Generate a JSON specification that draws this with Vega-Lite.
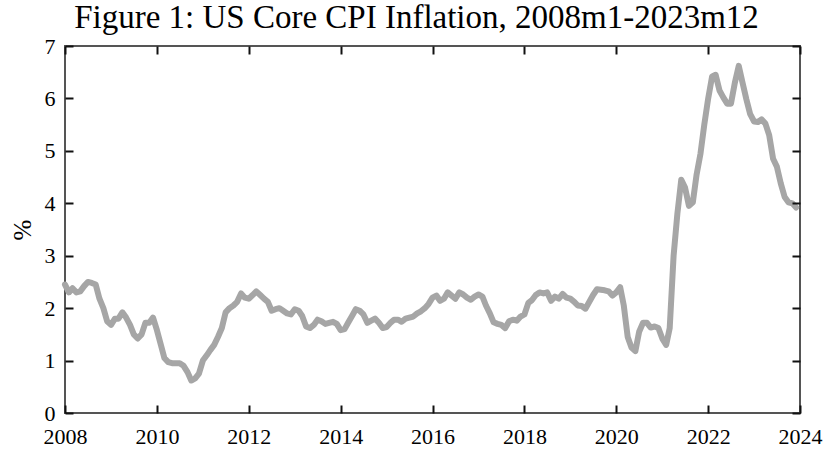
{
  "$schema": "https://vega.github.io/schema/vega-lite/v6.json",
  "width": 735,
  "height": 367,
  "autosize": {"type": "none"},
  "padding": {"left": 65, "top": 46, "right": 27, "bottom": 36},
  "background": "white",
  "config": {"view": {"stroke": "#555555", "strokeWidth": 2}, "font": "Liberation Serif"},
  "title": {
    "text": "Figure 1: US Core CPI Inflation, 2008m1-2023m12",
    "font": "Liberation Serif",
    "fontSize": 33,
    "fontWeight": "normal",
    "color": "black",
    "anchor": "middle",
    "frame": "group",
    "dx": -16,
    "offset": 0
  },
  "datasets": {
    "cpi": [
      {"date":"2008-01","v":2.45},{"date":"2008-02","v":2.30},{"date":"2008-03","v":2.38},{"date":"2008-04","v":2.30},{"date":"2008-05","v":2.32},{"date":"2008-06","v":2.42},{"date":"2008-07","v":2.50},{"date":"2008-08","v":2.48},{"date":"2008-09","v":2.45},{"date":"2008-10","v":2.18},{"date":"2008-11","v":2.00},{"date":"2008-12","v":1.75},
      {"date":"2009-01","v":1.68},{"date":"2009-02","v":1.80},{"date":"2009-03","v":1.80},{"date":"2009-04","v":1.92},{"date":"2009-05","v":1.82},{"date":"2009-06","v":1.68},{"date":"2009-07","v":1.50},{"date":"2009-08","v":1.42},{"date":"2009-09","v":1.50},{"date":"2009-10","v":1.72},{"date":"2009-11","v":1.72},{"date":"2009-12","v":1.82},
      {"date":"2010-01","v":1.58},{"date":"2010-02","v":1.30},{"date":"2010-03","v":1.05},{"date":"2010-04","v":0.97},{"date":"2010-05","v":0.95},{"date":"2010-06","v":0.95},{"date":"2010-07","v":0.95},{"date":"2010-08","v":0.90},{"date":"2010-09","v":0.78},{"date":"2010-10","v":0.62},{"date":"2010-11","v":0.66},{"date":"2010-12","v":0.75},
      {"date":"2011-01","v":1.00},{"date":"2011-02","v":1.10},{"date":"2011-03","v":1.20},{"date":"2011-04","v":1.30},{"date":"2011-05","v":1.45},{"date":"2011-06","v":1.62},{"date":"2011-07","v":1.92},{"date":"2011-08","v":2.00},{"date":"2011-09","v":2.05},{"date":"2011-10","v":2.12},{"date":"2011-11","v":2.28},{"date":"2011-12","v":2.20},
      {"date":"2012-01","v":2.18},{"date":"2012-02","v":2.25},{"date":"2012-03","v":2.32},{"date":"2012-04","v":2.25},{"date":"2012-05","v":2.18},{"date":"2012-06","v":2.12},{"date":"2012-07","v":1.95},{"date":"2012-08","v":1.98},{"date":"2012-09","v":2.00},{"date":"2012-10","v":1.95},{"date":"2012-11","v":1.90},{"date":"2012-12","v":1.88},
      {"date":"2013-01","v":1.98},{"date":"2013-02","v":1.95},{"date":"2013-03","v":1.85},{"date":"2013-04","v":1.65},{"date":"2013-05","v":1.62},{"date":"2013-06","v":1.68},{"date":"2013-07","v":1.78},{"date":"2013-08","v":1.75},{"date":"2013-09","v":1.70},{"date":"2013-10","v":1.72},{"date":"2013-11","v":1.74},{"date":"2013-12","v":1.70},
      {"date":"2014-01","v":1.58},{"date":"2014-02","v":1.60},{"date":"2014-03","v":1.72},{"date":"2014-04","v":1.85},{"date":"2014-05","v":1.98},{"date":"2014-06","v":1.95},{"date":"2014-07","v":1.88},{"date":"2014-08","v":1.72},{"date":"2014-09","v":1.76},{"date":"2014-10","v":1.80},{"date":"2014-11","v":1.72},{"date":"2014-12","v":1.62},
      {"date":"2015-01","v":1.64},{"date":"2015-02","v":1.72},{"date":"2015-03","v":1.78},{"date":"2015-04","v":1.78},{"date":"2015-05","v":1.74},{"date":"2015-06","v":1.80},{"date":"2015-07","v":1.82},{"date":"2015-08","v":1.84},{"date":"2015-09","v":1.90},{"date":"2015-10","v":1.94},{"date":"2015-11","v":2.00},{"date":"2015-12","v":2.08},
      {"date":"2016-01","v":2.20},{"date":"2016-02","v":2.24},{"date":"2016-03","v":2.14},{"date":"2016-04","v":2.18},{"date":"2016-05","v":2.30},{"date":"2016-06","v":2.24},{"date":"2016-07","v":2.18},{"date":"2016-08","v":2.30},{"date":"2016-09","v":2.26},{"date":"2016-10","v":2.20},{"date":"2016-11","v":2.16},{"date":"2016-12","v":2.22},
      {"date":"2017-01","v":2.26},{"date":"2017-02","v":2.22},{"date":"2017-03","v":2.05},{"date":"2017-04","v":1.90},{"date":"2017-05","v":1.73},{"date":"2017-06","v":1.70},{"date":"2017-07","v":1.68},{"date":"2017-08","v":1.62},{"date":"2017-09","v":1.75},{"date":"2017-10","v":1.78},{"date":"2017-11","v":1.76},{"date":"2017-12","v":1.84},
      {"date":"2018-01","v":1.88},{"date":"2018-02","v":2.10},{"date":"2018-03","v":2.15},{"date":"2018-04","v":2.25},{"date":"2018-05","v":2.30},{"date":"2018-06","v":2.28},{"date":"2018-07","v":2.30},{"date":"2018-08","v":2.14},{"date":"2018-09","v":2.22},{"date":"2018-10","v":2.18},{"date":"2018-11","v":2.27},{"date":"2018-12","v":2.20},
      {"date":"2019-01","v":2.18},{"date":"2019-02","v":2.12},{"date":"2019-03","v":2.05},{"date":"2019-04","v":2.04},{"date":"2019-05","v":1.99},{"date":"2019-06","v":2.12},{"date":"2019-07","v":2.25},{"date":"2019-08","v":2.36},{"date":"2019-09","v":2.35},{"date":"2019-10","v":2.34},{"date":"2019-11","v":2.32},{"date":"2019-12","v":2.24},
      {"date":"2020-01","v":2.30},{"date":"2020-02","v":2.40},{"date":"2020-03","v":2.05},{"date":"2020-04","v":1.45},{"date":"2020-05","v":1.25},{"date":"2020-06","v":1.18},{"date":"2020-07","v":1.55},{"date":"2020-08","v":1.72},{"date":"2020-09","v":1.72},{"date":"2020-10","v":1.63},{"date":"2020-11","v":1.65},{"date":"2020-12","v":1.62},
      {"date":"2021-01","v":1.42},{"date":"2021-02","v":1.30},{"date":"2021-03","v":1.62},{"date":"2021-04","v":3.00},{"date":"2021-05","v":3.80},{"date":"2021-06","v":4.45},{"date":"2021-07","v":4.30},{"date":"2021-08","v":3.95},{"date":"2021-09","v":4.02},{"date":"2021-10","v":4.55},{"date":"2021-11","v":4.95},{"date":"2021-12","v":5.50},
      {"date":"2022-01","v":6.00},{"date":"2022-02","v":6.42},{"date":"2022-03","v":6.45},{"date":"2022-04","v":6.15},{"date":"2022-05","v":6.02},{"date":"2022-06","v":5.90},{"date":"2022-07","v":5.90},{"date":"2022-08","v":6.30},{"date":"2022-09","v":6.62},{"date":"2022-10","v":6.30},{"date":"2022-11","v":5.98},{"date":"2022-12","v":5.70},
      {"date":"2023-01","v":5.56},{"date":"2023-02","v":5.55},{"date":"2023-03","v":5.60},{"date":"2023-04","v":5.52},{"date":"2023-05","v":5.30},{"date":"2023-06","v":4.85},{"date":"2023-07","v":4.70},{"date":"2023-08","v":4.38},{"date":"2023-09","v":4.12},{"date":"2023-10","v":4.02},{"date":"2023-11","v":4.00},{"date":"2023-12","v":3.92}
    ]
  },
  "data": {"name": "cpi"},
  "layer": [
    {
      "mark": {"type": "line", "color": "#a6a6a6", "strokeWidth": 6, "strokeJoin": "round", "strokeCap": "round"},
      "encoding": {
        "x": {
          "field": "date", "type": "temporal",
          "scale": {"type": "utc", "domain": [{"year": 2008, "month": 1, "date": 1, "utc": true}, {"year": 2024, "month": 1, "date": 1, "utc": true}]},
          "axis": {
            "orient": "bottom", "title": null, "grid": false, "format": "%Y",
            "values": [{"year": 2008, "utc": true}, {"year": 2010, "utc": true}, {"year": 2012, "utc": true}, {"year": 2014, "utc": true}, {"year": 2016, "utc": true}, {"year": 2018, "utc": true}, {"year": 2020, "utc": true}, {"year": 2022, "utc": true}, {"year": 2024, "utc": true}],
            "domain": false, "offset": -8, "ticks": true,
            "tickSize": 8, "tickColor": "#111111", "tickWidth": 2, "tickOpacity": 1,
            "labelFont": "Liberation Serif", "labelFontSize": 22, "labelColor": "black",
            "labelPadding": 13, "labelFlush": false, "labelOverlap": false, "zindex": 2
          }
        },
        "y": {
          "field": "v", "type": "quantitative",
          "scale": {"domain": [0, 7], "nice": false, "zero": true},
          "axis": {
            "orient": "left", "title": "%", "grid": false,
            "values": [0, 1, 2, 3, 4, 5, 6, 7],
            "domain": false, "offset": -8, "ticks": true,
            "tickSize": 8, "tickColor": "#111111", "tickWidth": 2, "tickOpacity": 1,
            "labelFont": "Liberation Serif", "labelFontSize": 22, "labelColor": "black",
            "labelPadding": 10, "labelFlush": false, "labelOverlap": false,
            "titleFont": "Liberation Serif", "titleFontSize": 25, "titleFontWeight": "normal", "titleColor": "black",
            "titlePadding": 9, "zindex": 2
          }
        }
      }
    },
    {
      "mark": {"type": "line", "opacity": 0},
      "encoding": {
        "x": {
          "field": "date", "type": "temporal",
          "scale": {"type": "utc", "domain": [{"year": 2008, "month": 1, "date": 1, "utc": true}, {"year": 2024, "month": 1, "date": 1, "utc": true}]},
          "axis": {
            "orient": "top", "title": null, "grid": false, "labels": false,
            "values": [{"year": 2008, "utc": true}, {"year": 2010, "utc": true}, {"year": 2012, "utc": true}, {"year": 2014, "utc": true}, {"year": 2016, "utc": true}, {"year": 2018, "utc": true}, {"year": 2020, "utc": true}, {"year": 2022, "utc": true}, {"year": 2024, "utc": true}],
            "domain": false, "offset": -8, "ticks": true,
            "tickSize": 8, "tickColor": "#111111", "tickWidth": 2, "tickOpacity": 1, "zindex": 2
          }
        },
        "y": {
          "field": "v", "type": "quantitative",
          "scale": {"domain": [0, 7], "nice": false, "zero": true},
          "axis": {
            "orient": "right", "title": null, "grid": false, "labels": false,
            "values": [0, 1, 2, 3, 4, 5, 6, 7],
            "domain": false, "offset": -8, "ticks": true,
            "tickSize": 8, "tickColor": "#111111", "tickWidth": 2, "tickOpacity": 1, "zindex": 2
          }
        }
      }
    }
  ],
  "resolve": {"scale": {"x": "independent", "y": "independent"}, "axis": {"x": "independent", "y": "independent"}}
}
